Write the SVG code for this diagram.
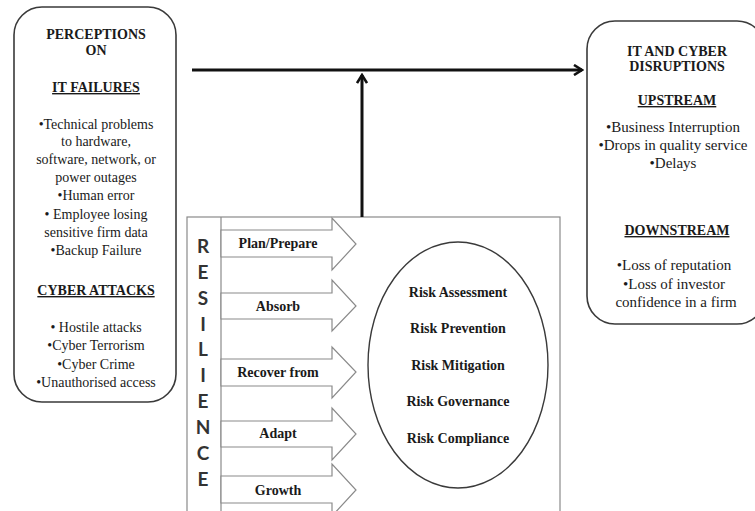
<svg xmlns="http://www.w3.org/2000/svg" width="755" height="511" viewBox="0 0 755 511">
  <style>
    .box { fill: #ffffff; stroke: #3a3a3a; stroke-width: 1.6; }
    .frame { fill: #ffffff; stroke: #8a8a8a; stroke-width: 1.2; }
    .blk { fill: #ffffff; stroke: #8a8a8a; stroke-width: 1.2; stroke-linejoin: miter; }
    .oval { fill: #ffffff; stroke: #3a3a3a; stroke-width: 1.4; }
    .t { font-family: "Liberation Serif", "Times New Roman", serif; font-size: 14px; fill: #1a1a1a; text-anchor: middle; }
    .w { font-size: 15px; }
    .b { font-weight: bold; }
    .u { text-decoration: underline; }
    .res { font-family: Lato, "Open Sans", "Liberation Sans", sans-serif; font-weight: bold; font-size: 19px; fill: #333333; text-anchor: middle; }
    .conn { fill: none; stroke: #111111; stroke-width: 3; }
  </style>
  <defs>
    <marker id="head" viewBox="0 0 12 12" refX="10" refY="6" markerWidth="4" markerHeight="4" orient="auto" markerUnits="strokeWidth">
      <path d="M2,1 L10,6 L2,11" fill="none" stroke="#111111" stroke-width="2.6" stroke-linejoin="miter"/>
    </marker>
  </defs>

  <rect width="755" height="511" fill="#ffffff"/>

  <!-- Causes: perceptions on IT failures and cyber attacks -->
  <g id="perceptions">
    <rect class="box" x="14" y="7" width="162" height="395" rx="28" ry="28"/>
    <text class="t b" x="96" y="39">PERCEPTIONS</text>
    <text class="t b" x="96" y="55">ON</text>
    <text class="t b u" x="96" y="92">IT FAILURES</text>
    <text class="t" x="96" y="129">•Technical problems</text>
    <text class="t" x="96" y="146">to hardware,</text>
    <text class="t" x="96" y="164">software, network, or</text>
    <text class="t" x="96" y="182">power outages</text>
    <text class="t" x="96" y="200">•Human error</text>
    <text class="t" x="96" y="219">• Employee losing</text>
    <text class="t" x="96" y="237">sensitive firm data</text>
    <text class="t" x="96" y="255">•Backup Failure</text>
    <text class="t b u" x="96" y="295">CYBER ATTACKS</text>
    <text class="t" x="96" y="332">• Hostile attacks</text>
    <text class="t" x="96" y="350">•Cyber Terrorism</text>
    <text class="t" x="96" y="369">•Cyber Crime</text>
    <text class="t" x="96" y="387">•Unauthorised access</text>
  </g>

  <!-- Effects: IT and cyber disruptions -->
  <g id="disruptions">
    <rect class="box" x="587" y="21" width="178" height="303" rx="28" ry="28"/>
    <text class="t b" x="677" y="56">IT AND CYBER</text>
    <text class="t b" x="677" y="71">DISRUPTIONS</text>
    <text class="t b u" x="677" y="105">UPSTREAM</text>
    <text class="t w" x="673" y="132">•Business Interruption</text>
    <text class="t w" x="673" y="150">•Drops in quality service</text>
    <text class="t w" x="673" y="168">•Delays</text>
    <text class="t b u" x="677" y="235">DOWNSTREAM</text>
    <text class="t w" x="674" y="270">•Loss of reputation</text>
    <text class="t w" x="674" y="289">•Loss of investor</text>
    <text class="t w" x="676" y="307">confidence in a firm</text>
  </g>

  <!-- Resilience panel -->
  <g id="resilience">
    <rect class="frame" x="187" y="217" width="373" height="310"/>
    <line x1="221" y1="217" x2="221" y2="511" stroke="#8a8a8a" stroke-width="1.2"/>
    <g>
      <text class="res" x="203" y="253">R</text>
      <text class="res" x="203" y="279">E</text>
      <text class="res" x="203" y="305">S</text>
      <text class="res" x="203" y="331">I</text>
      <text class="res" x="203" y="356">L</text>
      <text class="res" x="203" y="382">I</text>
      <text class="res" x="203" y="408">E</text>
      <text class="res" x="203" y="434">N</text>
      <text class="res" x="203" y="460">C</text>
      <text class="res" x="203" y="486">E</text>
    </g>
  </g>

  <g id="plan-prepare">
    <polygon class="blk" points="221,230 332,230 332,218 356,244 332,270 332,257 221,257"/>
    <text class="t b" x="278" y="248">Plan/Prepare</text>
  </g>
  <g id="absorb">
    <polygon class="blk" points="221,293 332,293 332,280 356,306 332,331 332,319 221,319"/>
    <text class="t b" x="278" y="311">Absorb</text>
  </g>
  <g id="recover-from">
    <polygon class="blk" points="221,359 332,359 332,347 356,372 332,398 332,386 221,386"/>
    <text class="t b" x="278" y="377">Recover from</text>
  </g>
  <g id="adapt">
    <polygon class="blk" points="221,421 332,421 332,408 356,434 332,460 332,447 221,447"/>
    <text class="t b" x="278" y="438">Adapt</text>
  </g>
  <g id="growth">
    <polygon class="blk" points="221,476 332,476 332,464 356,490 332,516 332,503 221,503"/>
    <text class="t b" x="278" y="495">Growth</text>
  </g>

  <g id="risk">
    <ellipse class="oval" cx="458" cy="365" rx="90" ry="123"/>
    <text class="t b" x="458" y="297">Risk Assessment</text>
    <text class="t b" x="458" y="333">Risk Prevention</text>
    <text class="t b" x="458" y="370">Risk Mitigation</text>
    <text class="t b" x="458" y="406">Risk Governance</text>
    <text class="t b" x="458" y="443">Risk Compliance</text>
  </g>

  <!-- Connectors -->
  <g id="connectors">
    <line class="conn" x1="192" y1="70" x2="582" y2="70" marker-end="url(#head)"/>
    <line class="conn" x1="362" y1="217" x2="362" y2="75" marker-end="url(#head)"/>
  </g>
</svg>
